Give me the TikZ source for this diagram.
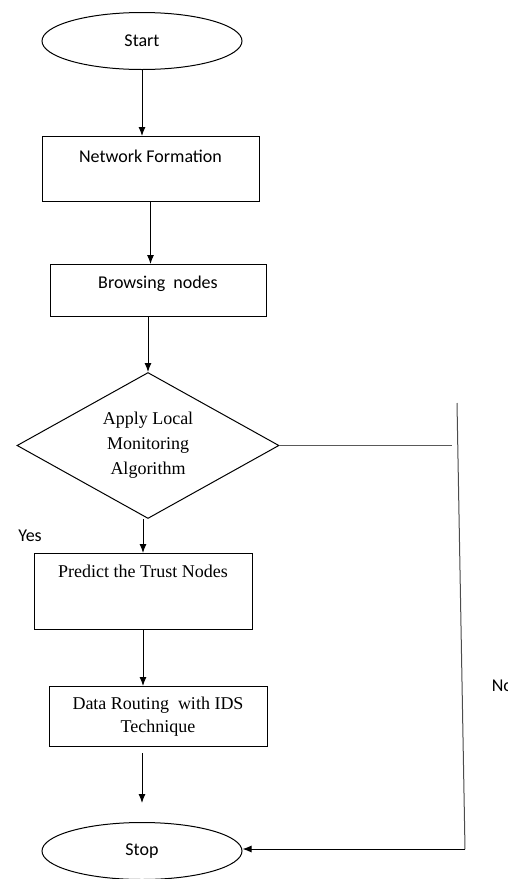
\documentclass[tikz,border=0pt]{standalone}
\usepackage{fontspec}
\newfontfamily\calibri{Carlito}
\newfontfamily\timesnr{Liberation Serif}
\usetikzlibrary{positioning}
\usetikzlibrary{calc}
\usetikzlibrary{arrows.meta}
\usetikzlibrary{shapes}
\tikzset{
box/.style={
  rectangle,
  draw=black,
  line width=1pt,
  align=center
  },
term/.style={
  ellipse,
  draw=black,
  line width=1pt,
  minimum width=200pt,
  minimum height=57pt,
  font=\calibri\fontsize{18}{22}\selectfont
  },
dec/.style={
  diamond,
  draw=black,
  line width=1pt,
  minimum width=262pt,
  minimum height=146pt,
  shape aspect=1.8,
  inner sep=0pt,
  align=center,
  font=\timesnr\fontsize{18}{25}\selectfont
  },
sans/.style={font=\calibri\fontsize{18}{22}\selectfont},
serif/.style={font=\timesnr\fontsize{18}{23}\selectfont}
}

\begin{document}
\begin{tikzpicture}[->,>={Latex[length=9pt,width=7pt]},x=1pt,y=1pt,line width=1pt]
            \useasboundingbox (0,0) rectangle (508,-879);
            \node[term] (start) at (142,-41) {Start};
            \node[box,sans,minimum width=217pt,minimum height=65pt,text height=13pt,text depth=26pt] (nf) [below=66pt of start,xshift=8.5pt] {Network Formation};
            \node[box,sans,minimum width=216pt,minimum height=52pt,text height=13pt,text depth=17pt] (bn) [below=62pt of nf,xshift=7.5pt] {Browsing\ \ nodes};
            \node[dec] (alg) [below=55pt of bn,xshift=-10pt] {Apply Local\\Monitoring\\Algorithm};
            \node[box,serif,minimum width=218pt,minimum height=76pt,text height=12pt,text depth=41pt] (trust) [below=34pt of alg,xshift=-5pt] {Predict the Trust Nodes};
            \node[box,serif,minimum width=218pt,minimum height=60pt] (route) [below=56pt of trust,xshift=15pt] {Data Routing\ \ with IDS\\Technique};
            \node[term] (stop) [below=75pt of route,xshift=-16pt] {Stop};
            \node[sans] (yes) at (30,-536) {Yes};
            \node[sans,anchor=west] (no) at (488,-686) {No};
            \coordinate (nojoin) at (452,-446);
            \coordinate (notop) at (457,-403);
            \coordinate (nobot) at (465,-849);
            \draw (start) -- (start |- nf.north);
            \draw (nf.south) -- (nf.south |- bn.north);
            \draw (alg.north |- bn.south) -- (alg.north);
            \draw (trust.north |- alg.south) -- (trust.north);
            \draw (trust.south) -- (trust.south |- route.north);
            \draw ($(stop.north |- route.south)+(0,-6)$) -- ($(stop.north)+(0,19)$);
            \draw[-,gray!70!black,line width=1.3pt] (alg.east) -- (alg.east -| nojoin);
            \draw[-,gray!60!black] (notop) -- (nobot);
            \draw (nobot) -- (nobot -| stop.east);
        \end{tikzpicture}
\end{document}
